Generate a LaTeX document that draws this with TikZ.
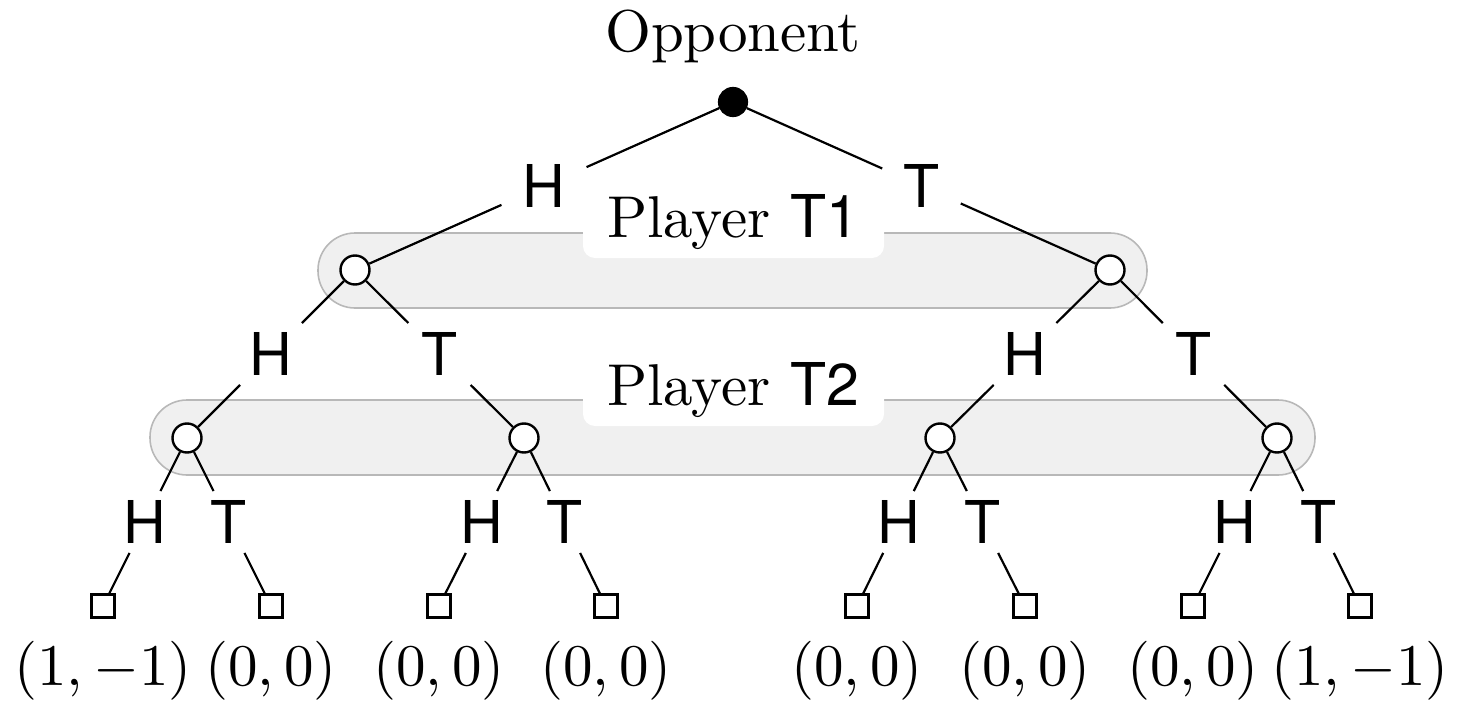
\documentclass[tikz,border=0pt]{standalone}
\usepackage{fontspec}
\newfontfamily\hv{TeX Gyre Heros}
\begin{document}
\begin{tikzpicture}[x=0.5pt,y=-0.5pt,
  txt/.style={scale=2.95,transform shape,font=\fontsize{10}{12}\selectfont},
  edge/.style={line width=1.1pt},
  lab/.style={txt,inner xsep=3.4pt,inner ysep=1.4pt,font=\fontsize{10}{12}\selectfont\hv},
  chance/.style={circle,fill=black,draw=black,line width=1.1pt,minimum size=14pt,inner sep=0pt},
  dec/.style={circle,fill=white,draw=black,line width=1.2pt,minimum size=14.5pt,inner sep=0pt},
  leaf/.style={rectangle,fill=white,draw=black,line width=1.1pt,minimum size=11.5pt,inner sep=0pt},
  band/.style={fill=black!6,draw=black!28,line width=0.8pt,rounded corners=18.5pt},
  wbox/.style={fill=white,rounded corners=6pt},
  pbox/.style={txt,anchor=base}
]
\useasboundingbox (0,0) rectangle (1478,701);
% information sets
\path[band] (318,233) rectangle (1147,308);
\path[band] (150,400) rectangle (1315,475);
\path[wbox] (583,195) rectangle (884,258);
\path[wbox] (583,363) rectangle (884,426);
\node[pbox] (p1) at (733,237) {Player {\hv T1}};
\node[pbox] (p2) at (733,405) {Player {\hv T2}};
% root
\node[txt,anchor=base] (opp) at (733,52) {Opponent};
\node[chance] (r) at (733,102) {};
% level 1
\node[dec] (a) at (355,270) {};
\node[dec] (b) at (1110,270) {};
\node[lab] (rH) at (544,186) {H};
\node[lab] (rT) at (921.5,186) {T};
\draw[edge] (r) -- (rH); \draw[edge] (rH) -- (a);
\draw[edge] (r) -- (rT); \draw[edge] (rT) -- (b);
% level 2
\node[dec] (aa) at (187,438) {};
\node[dec] (ab) at (524,438) {};
\node[dec] (ba) at (940,438) {};
\node[dec] (bb) at (1277,438) {};
\node[lab] (aH) at (271,354) {H};
\node[lab] (aT) at (439.5,354) {T};
\node[lab] (bH) at (1025,354) {H};
\node[lab] (bT) at (1193.5,354) {T};
\draw[edge] (a) -- (aH); \draw[edge] (aH) -- (aa);
\draw[edge] (a) -- (aT); \draw[edge] (aT) -- (ab);
\draw[edge] (b) -- (bH); \draw[edge] (bH) -- (ba);
\draw[edge] (b) -- (bT); \draw[edge] (bT) -- (bb);
% leaves
\foreach \n/\px/\pr/\lx/\lt/\pay in {
  aa/187/l1/103/H/{(1,-1)}, aa/187/l2/271/T/{(0,0)},
  ab/524/l3/439/H/{(0,0)}, ab/524/l4/606/T/{(0,0)},
  ba/940/l5/857/H/{(0,0)}, ba/940/l6/1025/T/{(0,0)},
  bb/1277/l7/1193/H/{(0,0)}, bb/1277/l8/1360/T/{(1,-1)}}{
  \node[leaf] (\pr) at (\lx,606) {};
  \node[lab] (\pr lab) at ({(\px+\lx)/2},522) {\lt};
  \draw[edge] (\n) -- (\pr lab); \draw[edge] (\pr lab) -- (\pr);
  \node[txt,anchor=base] (\pr pay) at (\lx,685) {$\pay$};
}
\end{tikzpicture}
\end{document}
